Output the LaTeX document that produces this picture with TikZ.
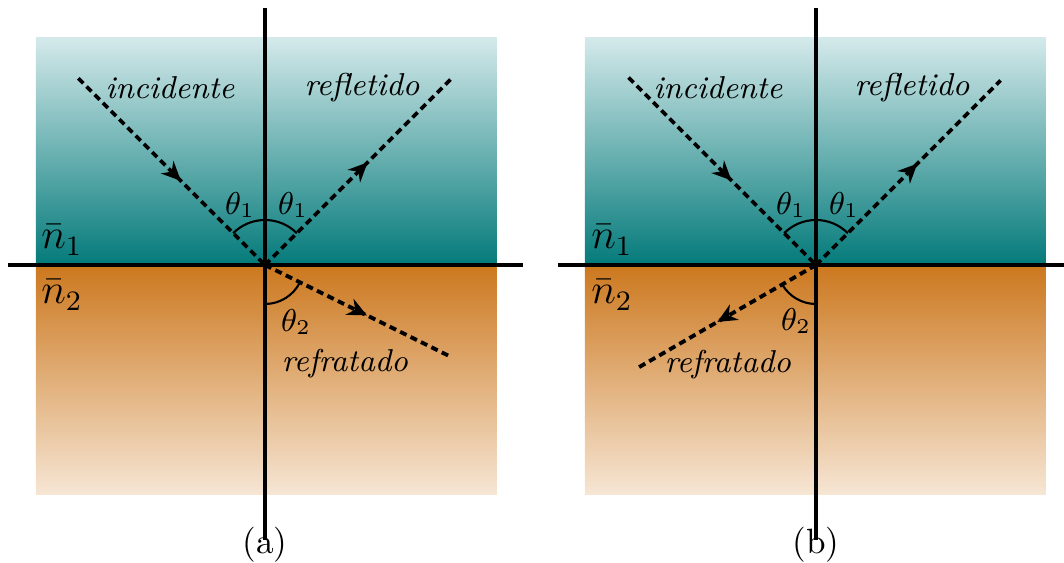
\documentclass[tikz,border=0pt]{standalone}
\usepackage{amsmath,amssymb}
\usepackage{xcolor}
\usepackage{tikz}
\usetikzlibrary{positioning,arrows.meta,calc,decorations.markings}

\definecolor{tealdark}{RGB}{4,122,122}
\definecolor{teallight}{RGB}{212,233,234}
\definecolor{orangedark}{RGB}{204,120,30}
\definecolor{orangelight}{RGB}{246,230,213}

\tikzset{
  axis/.style={line width=0.9pt},
  ray/.style={line width=1.1pt, dash pattern=on 2pt off 1.3pt,
    postaction={decorate},
    decoration={markings, mark=at position 0.55 with {\arrow{Stealth[length=5.5pt,width=5pt]}}}},
  angarc/.style={line width=0.6pt},
  raylabel/.style={font=\small\itshape},
  anglabel/.style={font=\small},
}

\begin{document}
\begin{tikzpicture}
  \useasboundingbox (-2.65,-2.98) rectangle (7.99,2.65);

  % panel (a)
  \shade[top color=teallight, bottom color=tealdark] (-2.29,0) rectangle (2.32,2.27);
  \shade[top color=orangedark, bottom color=orangelight] (-2.29,-2.30) rectangle (2.32,0);
  \coordinate (Oa) at (0,0);
  \draw[axis] (-2.57,0) -- (2.58,0);
  \draw[axis] (0,2.57) -- (0,-2.75);
  \coordinate (inca) at (135:2.64);
  \coordinate (refla) at (45:2.64);
  \coordinate (refra) at (-26.3:2.07);
  \draw[ray] (inca) -- (Oa);
  \draw[ray] (Oa) -- (refla);
  \draw[ray] (Oa) -- (refra);
  \draw[angarc] ($(Oa)+(135:0.45)$) arc[start angle=135, end angle=45, radius=0.45];
  \draw[angarc] ($(Oa)+(-90:0.39)$) arc[start angle=-90, end angle=-26.3, radius=0.39];
  \node[raylabel] (tinca) at (-0.95,1.77) {incidente};
  \node[raylabel] (trefla) at (0.97,1.77) {refletido};
  \node[raylabel] (trefra) at (0.80,-0.99) {refratado};
  \node[anglabel] (tha1) at (-0.25,0.60) {$\theta_1$};
  \node[anglabel] (tha2) at (0.28,0.60) {$\theta_1$};
  \node[anglabel] (tha3) at (0.31,-0.57) {$\theta_2$};
  \node[font=\large] (na1) at (-2.03,0.25) {$\bar{n}_1$};
  \node[font=\large] (na2) at (-2.03,-0.30) {$\bar{n}_2$};
  \node (capa) at (0,-2.80) {(a)};

  % panel (b)
  \begin{scope}[xshift=5.51cm]
    \shade[top color=teallight, bottom color=tealdark] (-2.31,0) rectangle (2.30,2.27);
    \shade[top color=orangedark, bottom color=orangelight] (-2.31,-2.30) rectangle (2.30,0);
    \coordinate (Ob) at (0,0);
    \draw[axis] (-2.58,0) -- (2.48,0);
    \draw[axis] (0,2.57) -- (0,-2.75);
    \coordinate (incb) at (135:2.65);
    \coordinate (reflb) at (45:2.61);
    \coordinate (refrb) at (210:2.07);
    \draw[ray] (incb) -- (Ob);
    \draw[ray] (Ob) -- (reflb);
    \draw[ray] (Ob) -- (refrb);
    \draw[angarc] ($(Ob)+(135:0.45)$) arc[start angle=135, end angle=45, radius=0.45];
    \draw[angarc] ($(Ob)+(210:0.39)$) arc[start angle=210, end angle=270, radius=0.39];
    \node[raylabel] (tincb) at (-0.98,1.77) {incidente};
    \node[raylabel] (treflb) at (0.96,1.77) {refletido};
    \node[raylabel] (trefrb) at (-0.88,-1.0) {refratado};
    \node[anglabel] (thb1) at (-0.25,0.60) {$\theta_1$};
    \node[anglabel] (thb2) at (0.28,0.60) {$\theta_1$};
    \node[anglabel] (thb3) at (-0.20,-0.56) {$\theta_2$};
    \node[font=\large] (nb1) at (-2.04,0.25) {$\bar{n}_1$};
    \node[font=\large] (nb2) at (-2.04,-0.30) {$\bar{n}_2$};
    \node (capb) at (0,-2.80) {(b)};
  \end{scope}
\end{tikzpicture}
\end{document}
